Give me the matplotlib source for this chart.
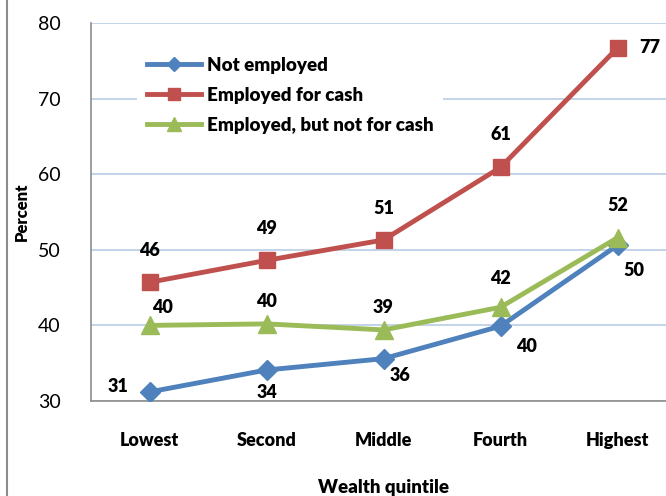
import matplotlib.pyplot as plt
from matplotlib.lines import Line2D

plt.rcParams['font.family'] = ['Lato', 'DejaVu Sans']

quintiles = ['Lowest', 'Second', 'Middle', 'Fourth', 'Highest']
not_employed = [31.2, 34.1, 35.6, 39.9, 50.6]
employed_cash = [45.7, 48.6, 51.3, 60.9, 76.7]
employed_nocash = [40.0, 40.2, 39.4, 42.4, 51.6]

lbl_not = ['31', '34', '36', '40', '50']
lbl_cash = ['46', '49', '51', '61', '77']
lbl_nocash = ['40', '40', '39', '42', '52']

blue = '#4F81BD'
red = '#C0504D'
green = '#9BBB59'
bw = 'heavy'

fig = plt.figure(figsize=(6.66, 4.96), dpi=100)
ax = fig.add_axes([91/666, 1-401/496, 585/666, 378/496])

x = range(len(quintiles))
ax.plot(x, not_employed, color=blue, lw=3.5, marker='D', ms=10, label='Not employed', zorder=3)
ax.plot(x, employed_cash, color=red, lw=3.5, marker='s', ms=11, label='Employed for cash', zorder=3)
ax.plot(x, employed_nocash, color=green, lw=3.5, marker='^', ms=13, label='Employed, but not for cash', zorder=4)

# data labels, offsets in points
off_not = [(-23, 4), (0, -16), (12, -12), (19, -15), (12, -18)]
off_cash = [(0, 23), (0, 23), (0, 23), (0, 24), (23, 0)]
off_nocash = [(9, 13), (0, 16), (0, 16), (0, 21), (0, 23)]
kw = dict(textcoords='offset points', ha='center', va='center', fontsize=13, fontweight=bw)
for i in x:
    ax.annotate(lbl_not[i], (i, not_employed[i]), xytext=off_not[i], **kw)
    ax.annotate(lbl_cash[i], (i, employed_cash[i]), xytext=off_cash[i], **kw)
    ax.annotate(lbl_nocash[i], (i, employed_nocash[i]), xytext=off_nocash[i], **kw)

ax.set_xlim(-0.5, 4.5)
ax.set_ylim(30, 80)
ax.set_yticks([30, 40, 50, 60, 70, 80])
ax.set_xticks(list(x))
ax.set_xticklabels(quintiles, fontweight=bw, fontsize=13)
ax.tick_params(axis='y', labelsize=14, length=0, pad=22)
ax.tick_params(axis='x', length=0, pad=22)
ax.grid(axis='y', color='#B9CDE5', lw=1.2)
ax.set_axisbelow(True)
for s in ['top', 'right']:
    ax.spines[s].set_visible(False)
for s in ['left', 'bottom']:
    ax.spines[s].set_color('#8C8C8C')
    ax.spines[s].set_linewidth(1.2)

ax.set_ylabel('Percent', fontweight=bw, fontsize=12)
ax.yaxis.set_label_coords(-61/585, 0.5)
ax.set_xlabel('Wealth quintile', fontweight=bw, fontsize=13.5)
ax.xaxis.set_label_coords(0.5, -78/378)

leg = ax.legend(loc='upper left', bbox_to_anchor=(37/585, 1 - 15/378), frameon=True,
                handlelength=2.9, labelspacing=0.7, borderpad=0.5, markerscale=0.75,
                handletextpad=0.3, prop={'weight': bw, 'size': 13.5})
leg.get_frame().set_facecolor('white')
leg.get_frame().set_edgecolor('none')
leg.get_frame().set_alpha(1)

fig.add_artist(Line2D([7/666, 7/666], [0, 1], color='#8C8C8C', lw=1.5))

fig.savefig('out.png', dpi=100)
